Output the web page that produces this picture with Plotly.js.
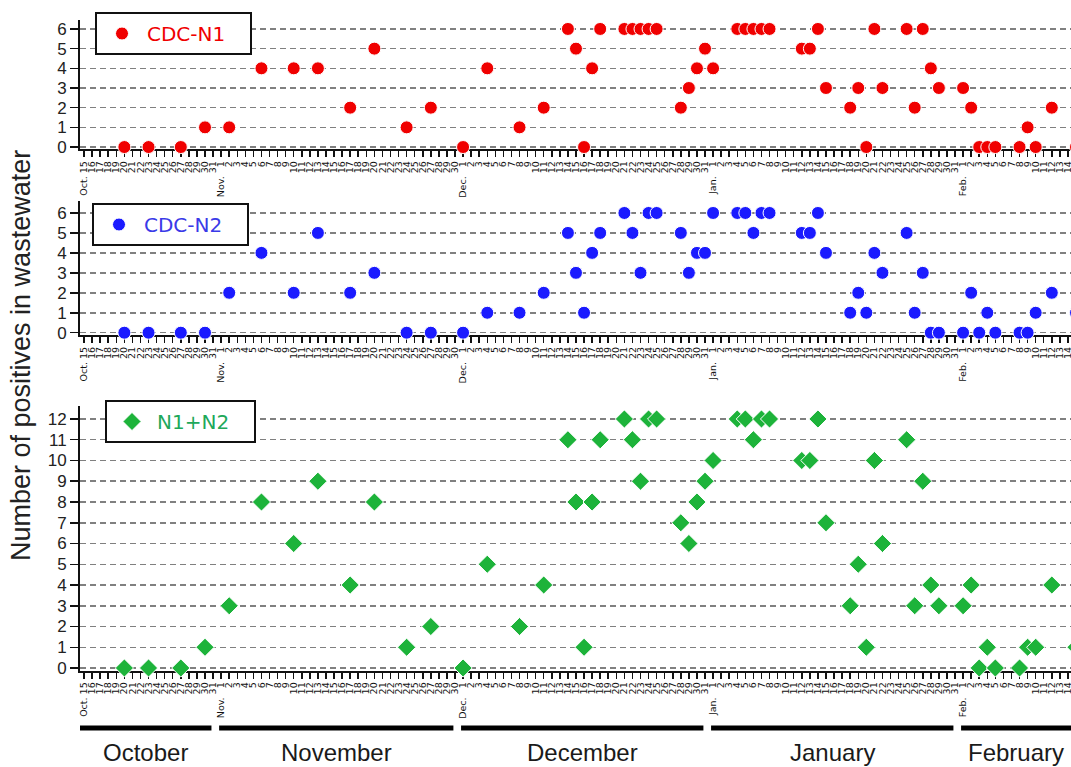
<!DOCTYPE html>
<html><head><meta charset="utf-8">
<script src="https://cdn.plot.ly/plotly-3.0.1.min.js"></script>
<style>html,body{margin:0;padding:0;overflow:hidden;background:#fff;width:1071px;height:767px}</style>
</head><body><div id="chart" style="width:1076px;height:767px"></div>
<script>
// ---- data ----
const sampleDates = [
 '2020-10-20','2020-10-23','2020-10-27','2020-10-30','2020-11-02','2020-11-06','2020-11-10','2020-11-13',
 '2020-11-17','2020-11-20','2020-11-24','2020-11-27','2020-12-01',
 '2020-12-04','2020-12-08','2020-12-11',
 '2020-12-14','2020-12-15','2020-12-16','2020-12-17','2020-12-18',
 '2020-12-21','2020-12-22','2020-12-23','2020-12-24','2020-12-25',
 '2020-12-28','2020-12-29','2020-12-30','2020-12-31','2021-01-01',
 '2021-01-04','2021-01-05','2021-01-06','2021-01-07','2021-01-08',
 '2021-01-12','2021-01-13','2021-01-14','2021-01-15',
 '2021-01-18','2021-01-19','2021-01-20','2021-01-21','2021-01-22',
 '2021-01-25','2021-01-26','2021-01-27','2021-01-28','2021-01-29',
 '2021-02-01','2021-02-02','2021-02-03','2021-02-04','2021-02-05',
 '2021-02-08','2021-02-09','2021-02-10','2021-02-12','2021-02-15'
];
const cdcN1 = [0,0,0,1,1,4,4,4,2,5,1,2,0, 4,1,2, 6,5,0,4,6, 6,6,6,6,6, 2,3,4,5,4, 6,6,6,6,6, 5,5,6,3, 2,3,0,6,3, 6,2,6,4,3, 3,2,0,0,0, 0,1,0,2,0];
const cdcN2 = [0,0,0,0,2,4,2,5,2,3,0,0,0, 1,1,2, 5,3,1,4,5, 6,5,3,6,6, 5,3,4,4,6, 6,6,5,6,6, 5,5,6,4, 1,2,1,4,3, 5,1,3,0,0, 0,2,0,1,0, 0,0,1,2,1];
const n1PlusN2 = [0,0,0,1,3,8,6,9,4,8,1,2,0, 5,2,4, 11,8,1,8,11, 12,11,9,12,12, 7,6,8,9,10, 12,12,11,12,12, 10,10,12,7, 3,5,1,10,6, 11,3,9,4,3, 3,4,0,1,0, 0,1,1,4,1];
const seriesNames = ['CDC-N1','CDC-N2','N1+N2'];
const monthNames = ['October','November','December','January','February'];
const monthFirstDays = ['2020-10-01','2020-11-01','2020-12-01','2021-01-01','2021-02-01'];
const monthLastDays = ['2020-10-31','2020-11-30','2020-12-31','2021-01-31','2021-02-28'];
const monthAbbr = {1:'Jan.',2:'Feb.',10:'Oct.',11:'Nov.',12:'Dec.'};
const firstTickDay = '2020-10-15';
const lastTickDay = '2021-02-14';
const yTitle = 'Number of positives in wastewater';

// ---- helpers ----
const DAY = 86400000;
const toMs = s => Date.parse(s + 'T00:00:00Z');
const fmt = ms => new Date(ms).toISOString().replace('T',' ').slice(0,19);
const tickvals = [], ticktext = [];
for (let t = toMs(firstTickDay); t <= toMs(lastTickDay); t += DAY) {
  const d = new Date(t);
  const day = d.getUTCDate(), mon = d.getUTCMonth() + 1;
  tickvals.push(fmt(t));
  if (day === 1 || t === toMs(firstTickDay)) {
    ticktext.push(monthAbbr[mon] + ' ' + String(day).padStart(2, '\u2007'));
  } else ticktext.push(String(day));
}
const rStart = toMs(firstTickDay) - 0.5 * DAY, rEnd = toMs(lastTickDay) + 1.0 * DAY;
const xRange = [fmt(rStart), fmt(rEnd)];

const W = 1076, H = 767;
const py = p => 1 - p / H;
const px = p => p / W;

function xAxis(anchor) {
  return {type:'date', domain:[px(80), 1], anchor, range:xRange, tickmode:'array', tickvals, ticktext,
    tickangle:-90, tickfont:{family:'DejaVu Sans', size:9.5, color:'#111'},
    ticks:'outside', ticklen:6, tickwidth:1.5, tickcolor:'#111',
    showline:true, linecolor:'#111', linewidth:2, showgrid:false, zeroline:false,
    layer:'below traces', fixedrange:true};
}
function yAxis(anchor, domain, top) {
  return {domain, anchor, range:[-0.12, top], tickmode:'linear', tick0:0, dtick:1,
    ticks:'outside', ticklen:8, tickwidth:1.5, tickcolor:'#111',
    showline:true, linewidth:2, linecolor:'#111',
    showgrid:true, gridcolor:'#808080', gridwidth:1.5, griddash:'6px,4px', zeroline:false,
    tickfont:{family:'Liberation Sans', size:17, color:'#222'}, layer:'below traces', fixedrange:true};
}

const colors = ['#f00000', '#1a1aff', '#1db33a'];
const pad = '\u00a0\u00a0\u00a0';
const traces = [
  {type:'scatter', mode:'markers', x:sampleDates, y:cdcN1, name:seriesNames[0] + pad, xaxis:'x', yaxis:'y', legend:'legend',
   cliponaxis:false, marker:{color:colors[0], size:13, symbol:'circle', line:{color:'#fff', width:1}}},
  {type:'scatter', mode:'markers', x:sampleDates, y:cdcN2, name:seriesNames[1] + pad, xaxis:'x2', yaxis:'y2', legend:'legend2',
   cliponaxis:false, marker:{color:colors[1], size:13, symbol:'circle', line:{color:'#fff', width:1}}},
  {type:'scatter', mode:'markers', x:sampleDates, y:n1PlusN2, name:seriesNames[2] + pad, xaxis:'x3', yaxis:'y3', legend:'legend3',
   cliponaxis:false, marker:{color:colors[2], size:14, symbol:'diamond', line:{color:'#fff', width:1}}}
];

const legendBase = {xanchor:'left', yanchor:'top', bgcolor:'#fff', bordercolor:'#111', borderwidth:2,
  itemwidth:40, itemclick:false, itemdoubleclick:false};

// month bars + labels
const shapes = [], annotations = [];
const visibleEnd = rStart + (1071 - 80) / (W - 80) * (rEnd - rStart);
monthNames.forEach((m, i) => {
  let s = toMs(monthFirstDays[i]) - 0.25 * DAY;
  let e = toMs(monthLastDays[i]) - 0.2 * DAY;
  shapes.push({type:'line', xref:'x3', yref:'paper', x0:fmt(s), x1:fmt(e), y0:py(728), y1:py(728),
    line:{color:'#000', width:5}});
  const cs = Math.max(s, rStart), ce = Math.min(e, visibleEnd);
  annotations.push({xref:'x3', yref:'paper', x:fmt((cs + ce) / 2), y:py(752), text:m, showarrow:false,
    xanchor:'center', yanchor:'middle', font:{family:'Liberation Sans', size:24, color:'#1a1a1a'}});
});
annotations.push({xref:'paper', yref:'paper', x:px(21), y:py(356), text:yTitle, textangle:-90, showarrow:false,
  xanchor:'center', yanchor:'middle', font:{family:'Liberation Sans', size:27, color:'#222'}});

const layout = {
  width:W, height:H, margin:{l:0, r:0, t:0, b:0}, paper_bgcolor:'#fff', plot_bgcolor:'#fff',
  font:{family:'Liberation Sans'},
  xaxis:xAxis('y'), xaxis2:xAxis('y2'), xaxis3:xAxis('y3'),
  yaxis:yAxis('x', [py(149.4), py(20.1)], 6.45),
  yaxis2:yAxis('x2', [py(335.1), py(201)], 6.6),
  yaxis3:yAxis('x3', [py(670.5), py(405.5)], 12.65),
  legend:Object.assign({}, legendBase, {x:px(95), y:py(12), font:{family:'DejaVu Sans', size:20, color:colors[0]}}),
  legend2:Object.assign({}, legendBase, {x:px(92), y:py(203), font:{family:'DejaVu Sans', size:20, color:'#3a3ae8'}}),
  legend3:Object.assign({}, legendBase, {x:px(105), y:py(400), font:{family:'DejaVu Sans', size:20, color:'#20a85a'}}),
  showlegend:true, shapes, annotations
};
Plotly.newPlot('chart', traces, layout, {staticPlot:true, displayModeBar:false});
</script>
</body></html>
